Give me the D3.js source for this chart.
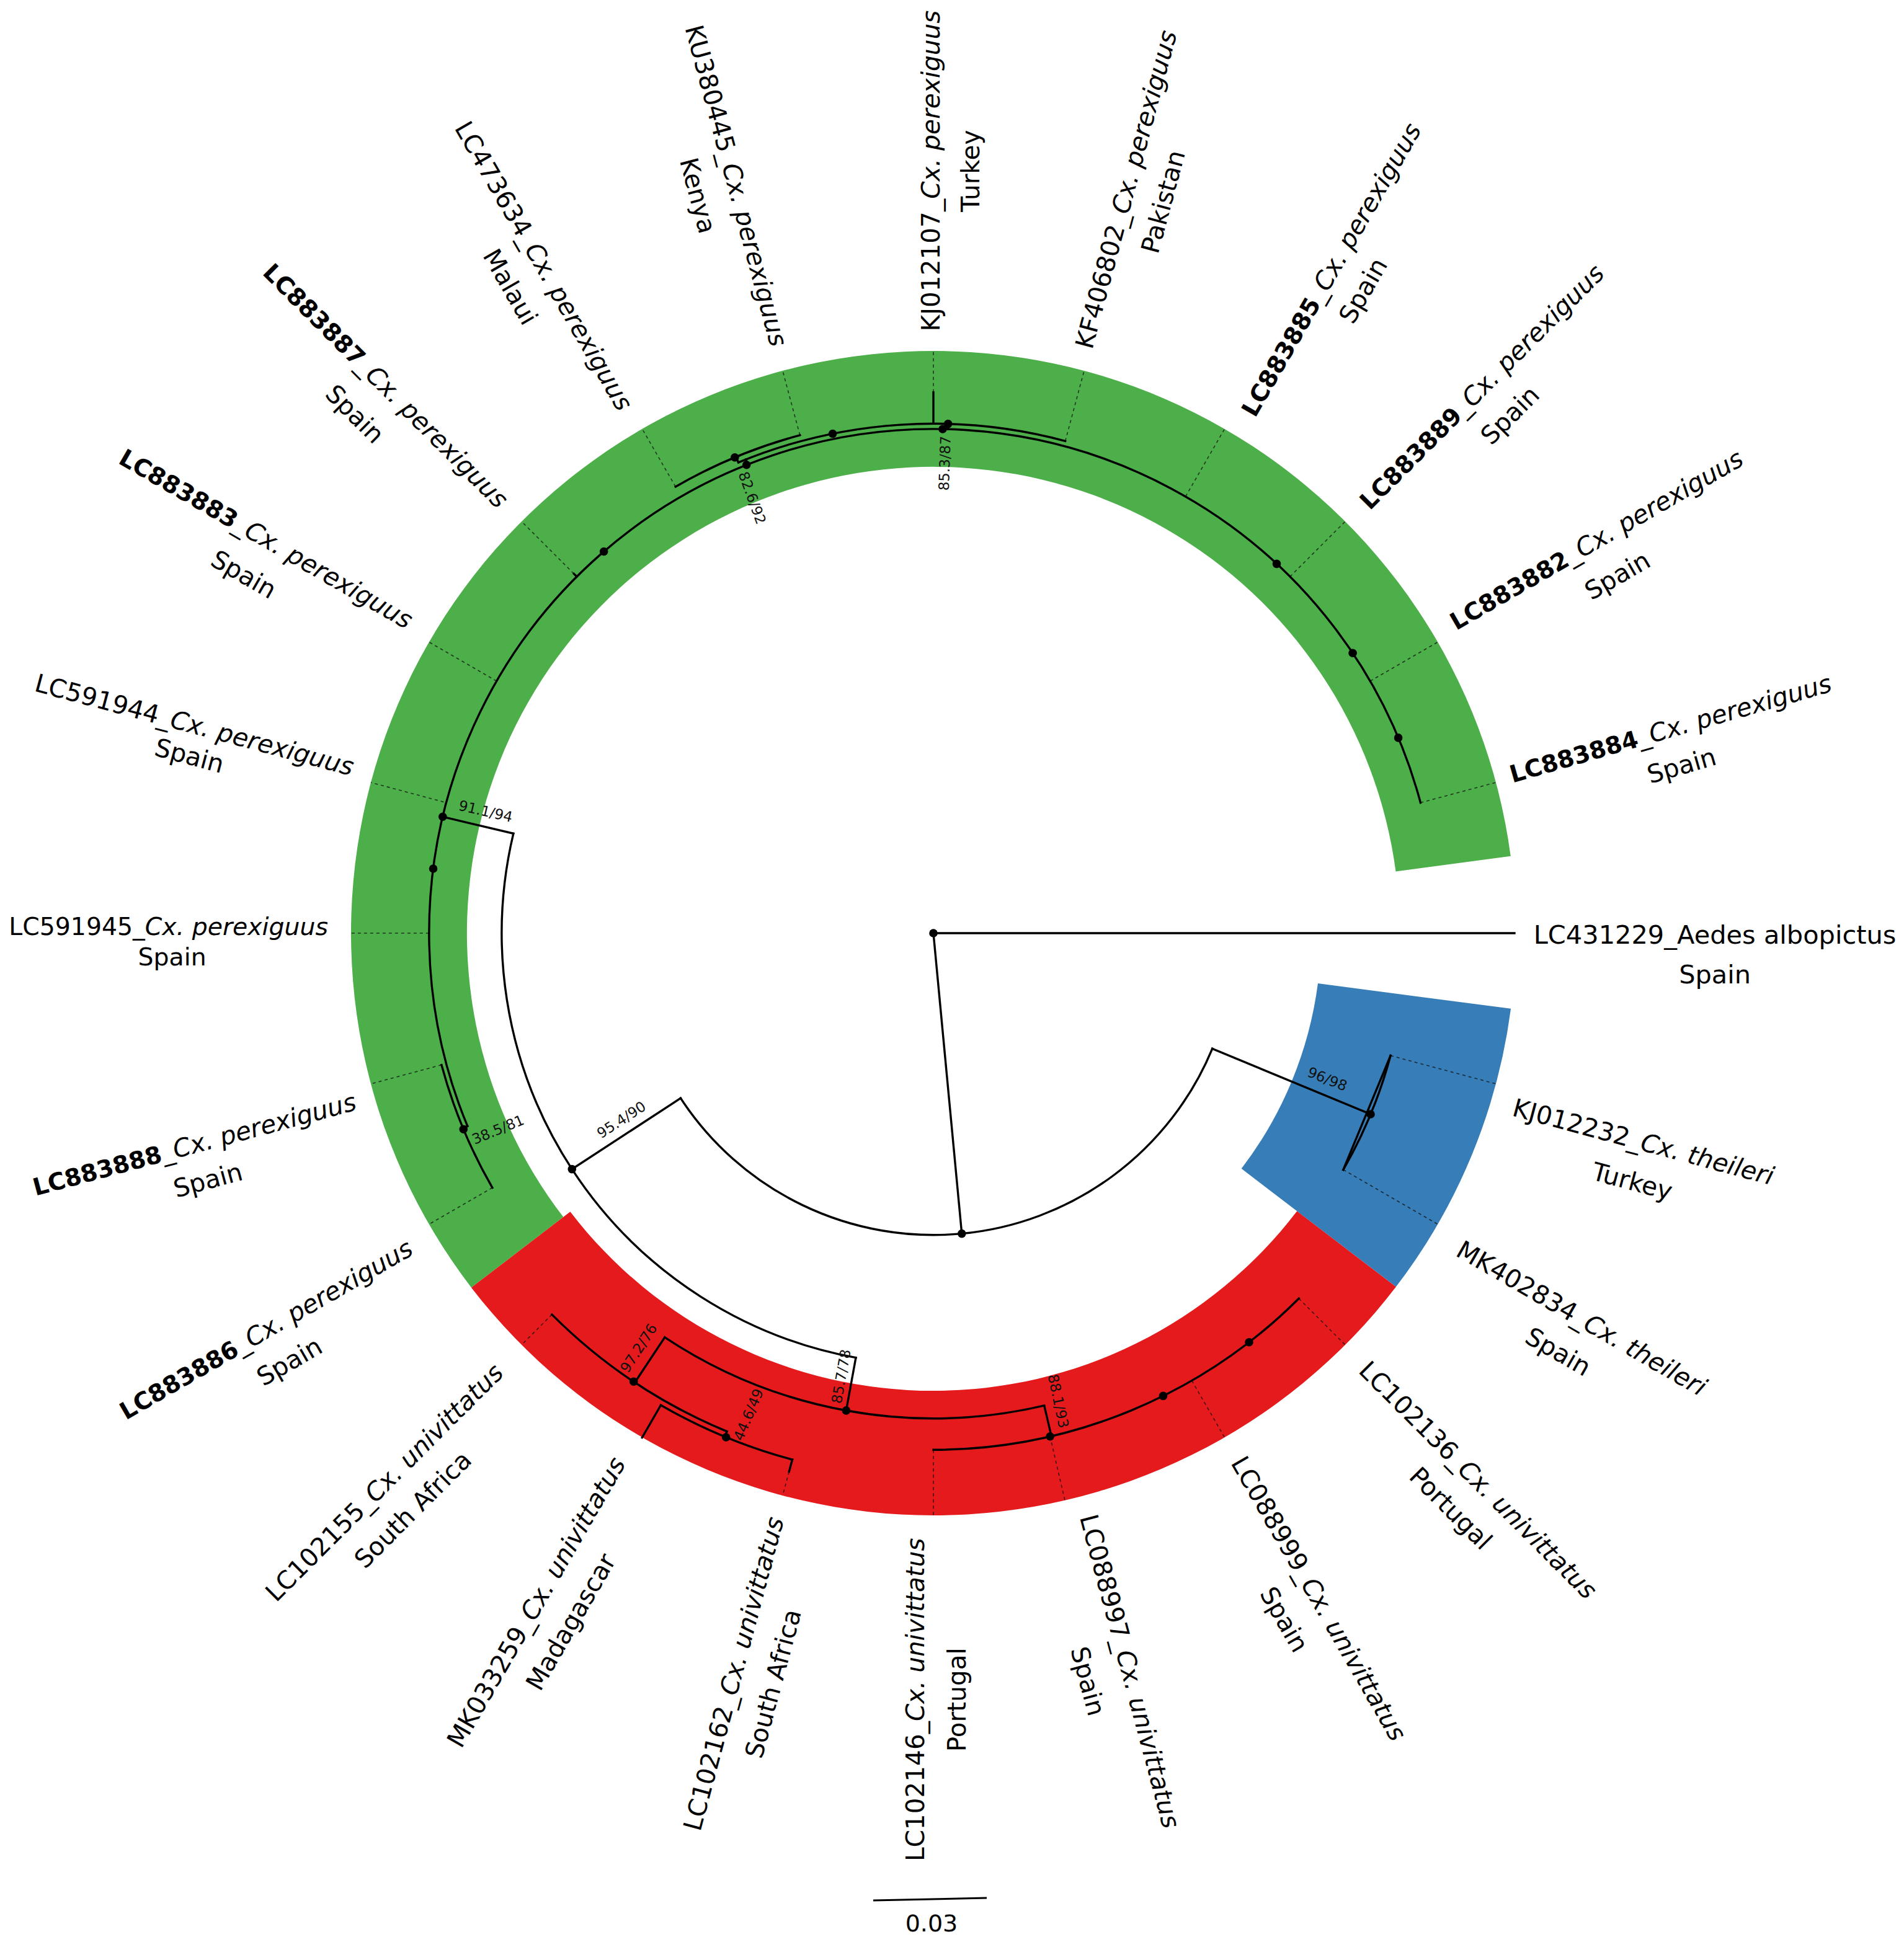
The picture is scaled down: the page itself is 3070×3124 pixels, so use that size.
<!DOCTYPE html>
<html><head><meta charset="utf-8">
<script src="https://cdnjs.cloudflare.com/ajax/libs/d3/7.8.5/d3.min.js"></script>
<style>html,body{margin:0;background:#fff}svg{display:block}</style></head>
<body><svg id="c" width="3070" height="3124"></svg>
<script>
// ---------- data ----------
// tips, clockwise from east (tip index × 15° = angle)
const tipNames = ["LC431229","KJ012232","MK402834","LC102136","LC088999","LC088997","LC102146","LC102162","MK033259","LC102155","LC883886","LC883888","LC591945","LC591944","LC883883","LC883887","LC473634","KU380445","KJ012107","KF406802","LC883885","LC883889","LC883882","LC883884"];
// radial branches: [tip-position, depth from, depth to] (substitutions/site)
const radialBranches = [
 [0,0,0.1536],[5.64,0,0.0798],
 [1.5,0.0798,0.1251],[9.79,0.0798,0.1141],
 [12.89,0.1141,0.1333],[6.69,0.1141,0.1283],
 [8.24,0.1283,0.1426],[7.5,0.1426,0.1441],[8,0.1441,0.1540],[7,0.1441,0.1474],
 [5.12,0.1283,0.1366],
 [10.5,0.1333,0.1346],
 [15,0.1333,0.1344],[16.5,0.1347,0.1363],[18,0.1347,0.1430],[16.56,0.1333,0.1347],[18.11,0.1333,0.1347]
];
// arcs: [depth, tip-position from, tip-position to]
const arcBranches = [
 [0.0798,1.5,9.79],[0.1251,1,2],[0.1141,6.69,12.89],
 [0.1283,5.12,8.24],[0.1426,7.5,9],[0.1441,7,8],[0.1366,3,6],
 [0.1333,10.5,23],[0.1346,10,11],[0.1347,16.5,19],[0.1363,16,17]
];
// straight chord that closes the clade of the two theileri tips
const chords = [[0.1251,1,2]];
// nodes with support dots: [depth, tip-position]
const nodeDots = [
 [0,0],[0.0798,5.64],[0.1141,9.79],[0.1251,1.5],[0.1333,12.89],[0.1333,12.49],[0.1346,10.49],
 [0.1333,15.28],[0.1333,16.55],[0.1333,18.07],[0.1347,18.11],[0.1347,17.24],[0.1363,16.49],
 [0.1333,20.86],[0.1333,21.75],[0.1333,22.48],
 [0.1283,6.69],[0.1426,8.25],[0.1441,7.49],[0.1366,5.13],[0.1366,4.24],[0.1366,3.49]
];
// dashed leader of each tip: [tip-position, depth of tip]
const tipDepths = [[1,0.1251],[2,0.1251],[3,0.1366],[4,0.1366],[5.13,0.1366],[6,0.1366],[7,0.1474],[8,0.1540],[9,0.1426],[10,0.1346],[11,0.1346],[12,0.1333],[13,0.1340],[14,0.1333],[15,0.1344],[16,0.1363],[17,0.1363],[18,0.1430],[19,0.1347],[20,0.1333],[21,0.1333],[22,0.1333],[23,0.1333]];
// coloured clade bands: [start°, end° clockwise from east, inner radius depth, colour]
const bands = [
 [142.5,352.4,0.1233,"#4DAF4A"],
 [37.4,142.5,0.1210,"#E41A1C"],
 [7.45,37.4,0.1025,"#377EB8"]
];
const scaleBarValue = 0.03, scaleBarLabel = "0.03";
// support labels
const supportText = ["82.6/92","85.3/87","91.1/94","95.4/90","38.5/81","97.2/76","44.6/49","85.7/78","88.1/93","96/98"];
const supportPos  = [[609,403,70],[765,375,-88],[393,657,13],[503,907,-33],[403,915,-22.5],[517,1092,-57],[606,1146,-67],[681,1115,-80],[857,1135,78],[1075,874,22]];
// tip labels: [accession, bold?, rest, italic?, second line]
const tipLabels = [
 ["LC883884",1,"_","Cx. perexiguus","Spain"],["LC883882",1,"_","Cx. perexiguus","Spain"],["LC883889",1,"_","Cx. perexiguus","Spain"],["LC883885",1,"_","Cx. perexiguus","Spain"],
 ["KF406802",0,"_","Cx. perexiguus","Pakistan"],["KJ012107",0,"_","Cx. perexiguus","Turkey"],["KU380445",0,"_","Cx. perexiguus","Kenya"],["LC473634",0,"_","Cx. perexiguus","Malaui"],
 ["LC883887",1,"_","Cx. perexiguus","Spain"],["LC883883",1,"_","Cx. perexiguus","Spain"],["LC591944",0,"_","Cx. perexiguus","Spain"],["LC591945",0,"_","Cx. perexiguus","Spain"],
 ["LC883888",1,"_","Cx. perexiguus","Spain"],["LC883886",1,"_","Cx. perexiguus","Spain"],
 ["LC102155",0,"_","Cx. univittatus","South Africa"],["MK033259",0,"_","Cx. univittatus","Madagascar"],["LC102162",0,"_","Cx. univittatus","South Africa"],["LC102146",0,"_","Cx. univittatus","Portugal"],
 ["LC088997",0,"_","Cx. univittatus","Spain"],["LC088999",0,"_","Cx. univittatus","Spain"],["LC102136",0,"_","Cx. univittatus","Portugal"],
 ["MK402834",0,"_","Cx. theileri","Spain"],["KJ012232",0,"_","Cx. theileri","Turkey"],
 ["LC431229",0,"_Aedes albopictus","","Spain"]
];
// label layout in reference-preview units: line 1 centre x,y, rotation, line 2 centre x,y
const labelLayout = [
 [1353,590,-16,1362,620],[1293,437,-30,1310,466],[1200,313,-45,1223,336],[1078,218,-60,1104,235],
 [912,153,-75,942,163],[754,138,-90,786,138],[596,150,75,565,158],[440,215,60,413,232],
 [312,312,45,287,335],[215,436,30,197,465],[157,587,15,153,612],[136,750,0,139,775],
 [157,927,-15,168,956],[215,1077,-30,234,1103],
 [311,1201,-45,334,1223],[434,1298,-60,462,1314],[594,1356,-75,626,1364],[741,1377,-90,775,1377],
 [915,1354,75,881,1362],[1068,1295,60,1040,1312],[1197,1199,45,1175,1222],
 [1281,1068,30,1262,1095],[1331,925,15,1322,957],
 [1389,757,0,1389,789]
];
// ---------- drawing ----------
const K = 1.99, off = 1;
const cx = 1505, cy = 1505;
const svg = d3.select("#c");
const r = d3.scaleLinear().domain([0,0.03]).range([0,183]);
const ang = d3.scaleLinear().domain([0,24]).range([0,2*Math.PI]);
const pt = (d,p)=>[cx+r(d)*Math.cos(ang(p)), cy+r(d)*Math.sin(ang(p))];
const outer = 939;
const g = svg.append("g");
const arcGen = d3.arc();
g.selectAll("path.band").data(bands).join("path").attr("class","band")
 .attr("transform",`translate(${cx},${cy})`).attr("fill",d=>d[3])
 .attr("d",d=>arcGen({innerRadius:r(d[2]),outerRadius:outer,startAngle:(d[0]+90)*Math.PI/180,endAngle:(d[1]+90)*Math.PI/180}));
// dashed leaders
g.selectAll("line.lead").data(tipDepths).join("line").attr("class","lead")
 .each(function(d){const a=pt(d[1],d[0]);const b=[cx+outer*Math.cos(ang(d[0])),cy+outer*Math.sin(ang(d[0]))];
  d3.select(this).attr("x1",a[0]).attr("y1",a[1]).attr("x2",b[0]).attr("y2",b[1]);})
 .attr("stroke","#111").attr("stroke-width",1.6).attr("stroke-dasharray","5 5").attr("opacity",.75);
// tree
const radialPath = d=>{const p=d3.path();const a=pt(d[1],d[0]),b=pt(d[2],d[0]);p.moveTo(a[0],a[1]);p.lineTo(b[0],b[1]);return p.toString();};
const arcPath = d=>{const p=d3.path();p.arc(cx,cy,r(d[0]),ang(d[1]),ang(d[2]),false);return p.toString();};
const chordPath = d=>{const p=d3.path();const a=pt(d[0],d[1]),b=pt(d[0],d[2]);p.moveTo(a[0],a[1]);p.lineTo(b[0],b[1]);return p.toString();};
const treeStyle = s=>s.attr("fill","none").attr("stroke","#000").attr("stroke-width",3.4).attr("stroke-linecap","square");
treeStyle(g.selectAll("path.rad").data(radialBranches).join("path").attr("class","rad").attr("d",radialPath));
treeStyle(g.selectAll("path.arc").data(arcBranches).join("path").attr("class","arc").attr("d",arcPath));
treeStyle(g.selectAll("path.chord").data(chords).join("path").attr("class","chord").attr("d",chordPath));
g.selectAll("circle.n").data(nodeDots).join("circle").attr("class","n")
 .attr("cx",d=>pt(d[0],d[1])[0]).attr("cy",d=>pt(d[0],d[1])[1]).attr("r",6.8).attr("fill","#000");
// support labels
g.selectAll("text.s").data(supportText).join("text").attr("class","s")
 .attr("transform",(d,i)=>`translate(${supportPos[i][0]*K+off},${supportPos[i][1]*K+off}) rotate(${supportPos[i][2]})`)
 .attr("text-anchor","middle").attr("dominant-baseline","central")
 .attr("font-family","DejaVu Sans").attr("font-size",23).attr("fill","#111").text(d=>d);
// tip labels
const FONT = "'DejaVu Sans', sans-serif";
const fontSize = d=> d[0]==="LC431229" ? 41.5 : d[0]==="LC591945" ? 39.4 : 40.6;
const tl = g.selectAll("g.tl").data(tipLabels).join("g").attr("class","tl");
tl.each(function(d,i){
  const L = labelLayout[i], gg = d3.select(this), FS = fontSize(d);
  const t1 = gg.append("text").attr("transform",`translate(${L[0]*K+off},${L[1]*K+off}) rotate(${L[2]})`)
    .attr("text-anchor","middle").attr("dominant-baseline","central").attr("font-family",FONT).attr("font-size",FS).attr("fill","#000");
  t1.append("tspan").attr("font-weight",d[1]?700:400).attr("font-size",d[1]?38.5:FS).text(d[0]);
  t1.append("tspan").text(d[2]);
  if(d[3]) t1.append("tspan").attr("font-style","italic").text(d[3]);
  gg.append("text").attr("transform",`translate(${L[3]*K+off},${L[4]*K+off}) rotate(${L[2]})`)
    .attr("text-anchor","middle").attr("dominant-baseline","central").attr("font-family",FONT).attr("font-size",FS).attr("fill","#000").text(d[4]);
});
// scale bar
const barLen = r(scaleBarValue), bx0 = 1408, by0 = 3065;
g.append("line").attr("x1",bx0).attr("y1",by0).attr("x2",bx0+barLen).attr("y2",by0-4).attr("stroke","#000").attr("stroke-width",3);
g.append("text").attr("x",1502).attr("y",3102).attr("text-anchor","middle").attr("dominant-baseline","central")
 .attr("font-family",FONT).attr("font-size",38).attr("fill","#000").text(scaleBarLabel);
</script></body></html>
